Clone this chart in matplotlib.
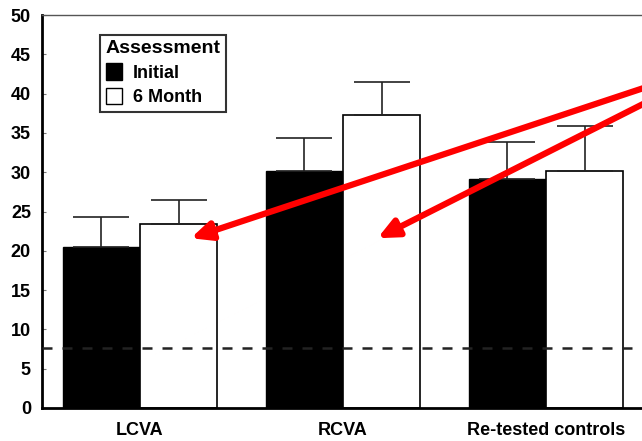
import matplotlib.pyplot as plt
from matplotlib.patches import Patch
import numpy as np

groups = ['LCVA', 'RCVA', 'Re-tested controls']
initial = [20.5, 30.2, 29.1]
initial_err = [3.8, 4.2, 4.8]
month6 = [23.4, 37.3, 30.2]
month6_err = [3.1, 4.2, 5.7]
cutoff = 7.6

plt.rcParams['font.family'] = ['Liberation Sans', 'DejaVu Sans']
plt.rcParams['font.weight'] = 'bold'

fig = plt.figure(figsize=(6.42, 4.41), dpi=100)
ax = fig.add_axes([42 / 642, 33 / 441, 1 - 42 / 642, (408 - 15) / 441])

x = np.arange(len(groups))
w = 0.38
err_kw = dict(ecolor='#222222', elinewidth=1.2, capsize=20, capthick=1.2)
ax.bar(x - w / 2, initial, w, color='black', edgecolor='black', linewidth=1,
       yerr=[np.zeros(3), initial_err], error_kw=err_kw, label='Initial', zorder=2)
ax.bar(x + w / 2, month6, w, color='white', edgecolor='black', linewidth=1.2,
       yerr=[np.zeros(3), month6_err], error_kw=err_kw, label='6 Month', zorder=2)

ax.axhline(cutoff, color='#222222', linestyle=(0, (4, 4)), linewidth=1.8, zorder=3)

ax.set_xlim(-0.483, 2.473)
ax.set_ylim(0, 50)
ax.set_yticks(range(0, 51, 5))
ax.set_xticks(x)
ax.set_xticklabels(groups, fontsize=13, fontweight='bold')
ax.tick_params(axis='x', length=0, pad=10)
ax.tick_params(axis='y', direction='in', length=3, width=0.8, labelsize=13,
               pad=8, color='#777777')
for t in ax.get_yticklabels():
    t.set_fontweight('bold')

ax.spines['right'].set_visible(False)
ax.spines['top'].set_color('#555555')
ax.spines['top'].set_linewidth(1)
ax.spines['left'].set_linewidth(2)
ax.spines['bottom'].set_linewidth(2)

handles = [Patch(facecolor='black', edgecolor='black', label='Initial'),
           Patch(facecolor='white', edgecolor='black', label='6 Month')]
leg = ax.legend(handles=handles, title='Assessment', loc='upper left',
                bbox_to_anchor=(0.097, 0.95), frameon=True, fancybox=False,
                fontsize=13, title_fontsize=14, handlelength=0.9,
                handleheight=1.0, handletextpad=0.6, borderpad=0.3,
                labelspacing=0.35, borderaxespad=0)
leg.get_frame().set_edgecolor('black')
leg.get_frame().set_linewidth(1.5)
leg.get_title().set_fontweight('bold')
leg._legend_box.align = 'left'

# red arrows coming in from the right edge
arrow = dict(arrowstyle='-|>,head_length=1.2,head_width=0.55', color='#ff0000',
             lw=4.5, shrinkA=0, shrinkB=0)
ax.annotate('', xy=(0.25, 21.6), xytext=(2.48, 40.7), arrowprops=arrow,
            annotation_clip=False, zorder=5)
ax.annotate('', xy=(1.17, 21.6), xytext=(2.48, 38.7), arrowprops=arrow,
            annotation_clip=False, zorder=5)

fig.savefig('out.png', dpi=100)
